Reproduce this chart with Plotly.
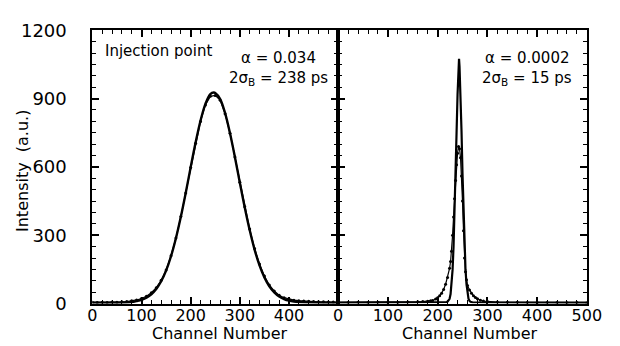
import plotly.graph_objects as go

# ---------------- data ----------------
# Left panel: injection point
left_data_ch = [0, 10, 20, 30, 40, 50, 60, 70, 80, 90, 100, 110, 120, 130, 140, 150, 160, 170, 180, 190,
                200, 210, 220, 230, 240, 250, 260, 270, 280, 290, 300, 310, 320, 330, 340, 350, 360, 370,
                380, 390, 400, 410, 420, 430, 440, 450, 460, 470, 480, 490, 500]
left_data_val = [6, 5, 6, 5, 7, 6, 8, 9, 12, 16, 22, 32, 48, 70, 102, 148, 210, 288, 382, 486,
                 597, 704, 800, 872, 910, 914, 893, 834, 748, 644, 533, 425, 327, 242, 174, 121, 82, 55,
                 37, 26, 19, 15, 13, 11, 10, 9, 8, 8, 7, 7, 6]

left_fit_ch = [0, 50, 80, 90, 100, 110, 120, 130, 140, 150, 160, 170, 180, 190, 200, 210, 220, 230, 240,
               247, 250, 260, 270, 280, 290, 300, 310, 320, 330, 340, 350, 360, 370, 380, 390, 400, 410,
               420, 450, 500]
left_fit_val = [4, 4, 7, 11, 16, 26, 41, 64, 98, 145, 208, 287, 381, 487, 599, 707, 803, 877, 920,
                927, 925, 898, 836, 748, 643, 531, 422, 323, 237, 168, 115, 76, 49, 31, 20, 13, 9,
                7, 5, 4]

# Right panel: narrow bunch
right_data_ch = [0, 20, 40, 60, 80, 100, 120, 140, 160, 170, 180, 186, 190, 196, 200, 204, 208, 212, 216,
                 220, 224, 226, 228, 230, 232, 234, 236, 238, 240, 242, 244, 246, 248, 250, 252, 254,
                 256, 258, 260, 264, 268, 272, 276, 280, 286, 292, 300, 320, 340, 360, 380, 400, 420,
                 440, 460, 480, 500]
right_data_val = [5, 5, 6, 5, 6, 6, 5, 7, 8, 9, 10, 12, 14, 20, 26, 34, 46, 62, 85,
                  115, 155, 185, 230, 300, 380, 460, 540, 610, 660, 690, 680, 640, 560, 450, 320, 200,
                  140, 105, 80, 60, 45, 34, 27, 21, 15, 11, 9, 7, 6, 6, 5, 5, 5,
                  5, 4, 5, 4]

right_fit_ch = [0, 50, 100, 150, 200, 210, 216, 218, 220, 222, 224, 226, 228, 230, 232, 234, 236, 238,
                240, 242, 243, 244, 246, 248, 250, 252, 254, 256, 258, 260, 262, 264, 266, 270, 300,
                400, 500]
right_fit_val = [4, 4, 5, 5, 5, 5, 6, 7, 9, 13, 21, 42, 82, 148, 252, 392, 562, 748,
                 917, 1036, 1075, 1040, 925, 757, 570, 395, 255, 150, 85, 45, 22, 12, 8, 6, 5,
                 4, 4]

y_ticks = [0, 300, 600, 900, 1200]
left_x_ticks = [0, 100, 200, 300, 400]
right_x_ticks = [0, 100, 200, 300, 400, 500]

# ---------------- figure ----------------
FONT = "DejaVu Sans"
fig = go.Figure()

fig.add_trace(go.Scatter(x=left_data_ch, y=left_data_val, mode="lines+markers",
                         line=dict(color="black", width=1.2), marker=dict(color="black", size=3),
                         xaxis="x", yaxis="y", showlegend=False))
fig.add_trace(go.Scatter(x=left_fit_ch, y=left_fit_val, mode="lines", line_shape="spline",
                         line=dict(color="black", width=2.4),
                         xaxis="x", yaxis="y", showlegend=False))
fig.add_trace(go.Scatter(x=right_data_ch, y=right_data_val, mode="lines+markers",
                         line=dict(color="black", width=1.2), marker=dict(color="black", size=3),
                         xaxis="x2", yaxis="y2", showlegend=False))
fig.add_trace(go.Scatter(x=right_fit_ch, y=right_fit_val, mode="lines",
                         line=dict(color="black", width=2.2),
                         xaxis="x2", yaxis="y2", showlegend=False))

xl, xm, xr = 82 / 620, 336 / 620, 593 / 620
yb, yt = (346 - 303) / 346, (346 - 12) / 346

common_axis = dict(showline=True, linecolor="black", linewidth=2, mirror="allticks",
                   ticks="inside", ticklen=7, tickwidth=1.5, tickcolor="black",
                   showgrid=False, zeroline=False)

xfont = dict(family=FONT, size=16, color="black")
yfont = dict(family=FONT, size=18, color="black")

fig.update_layout(
    width=620, height=346,
    margin=dict(l=0, r=0, t=0, b=0),
    paper_bgcolor="white", plot_bgcolor="white",
    xaxis=dict(domain=[xl, xm], range=[0, 500], anchor="y", tickmode="array",
               tickvals=left_x_ticks, ticklabelstandoff=-4, tickfont=xfont,
               minor=dict(dtick=20, ticks="inside", ticklen=4, tickwidth=1.2, tickcolor="black"),
               **common_axis),
    yaxis=dict(domain=[yb, yt], range=[0, 1200], anchor="x", tickmode="array",
               tickvals=y_ticks, ticklabelstandoff=20, tickfont=yfont,
               minor=dict(dtick=50, ticks="inside", ticklen=4, tickwidth=1.2, tickcolor="black"),
               **common_axis),
    xaxis2=dict(domain=[xm, xr], range=[0, 500], anchor="y2", tickmode="array",
                tickvals=right_x_ticks, ticklabelstandoff=-4, tickfont=xfont,
                minor=dict(dtick=20, ticks="inside", ticklen=4, tickwidth=1.2, tickcolor="black"),
                **common_axis),
    yaxis2=dict(domain=[yb, yt], range=[0, 1200], anchor="x2", tickmode="array",
                tickvals=y_ticks, showticklabels=False,
                minor=dict(dtick=50, ticks="inside", ticklen=4, tickwidth=1.2, tickcolor="black"),
                **common_axis),
)

txt = dict(family=FONT, size=15, color="black")
ann = [
    dict(text="Injection point", x=150 / 620, y=1 - 34 / 346, xref="paper", yref="paper",
         showarrow=False, font=txt, xanchor="center", yanchor="middle"),
    dict(text="α = 0.034", x=274 / 620, y=1 - 41 / 346, xref="paper", yref="paper",
         showarrow=False, font=txt, xanchor="center", yanchor="middle"),
    dict(text="2σ<sub>B</sub> = 238 ps", x=274 / 620, y=1 - 63 / 346, xref="paper", yref="paper",
         showarrow=False, font=txt, xanchor="center", yanchor="middle"),
    dict(text="α = 0.0002", x=531 / 620, y=1 - 41 / 346, xref="paper", yref="paper",
         showarrow=False, font=txt, xanchor="center", yanchor="middle"),
    dict(text="2σ<sub>B</sub> = 15 ps", x=531 / 620, y=1 - 63 / 346, xref="paper", yref="paper",
         showarrow=False, font=txt, xanchor="center", yanchor="middle"),
    dict(text="Intensity  (a.u.)", x=21 / 620, y=1 - 162 / 346, xref="paper", yref="paper",
         showarrow=False, textangle=-90, font=dict(family=FONT, size=16, color="black"),
         xanchor="right", yanchor="middle"),
    dict(text="Channel Number", x=213 / 620, y=1 - 335 / 346, xref="paper", yref="paper",
         showarrow=False, font=dict(family=FONT, size=16, color="black"),
         xanchor="center", yanchor="middle"),
    dict(text="Channel Number", x=472 / 620, y=1 - 335 / 346, xref="paper", yref="paper",
         showarrow=False, font=dict(family=FONT, size=16, color="black"),
         xanchor="center", yanchor="middle"),
]
fig.update_layout(annotations=ann)

fig.write_html("out.html")
